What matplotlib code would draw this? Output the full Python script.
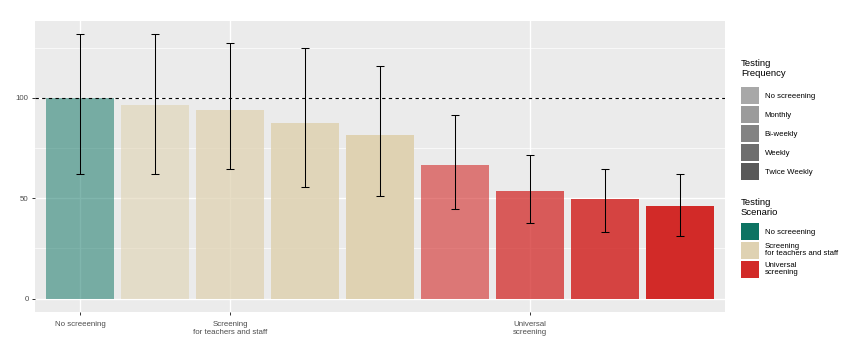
import numpy as np
import matplotlib
matplotlib.use("Agg")
import matplotlib.pyplot as plt
from matplotlib.patches import Patch

plt.rcParams["font.family"] = ["Liberation Sans", "DejaVu Sans"]

# 데이터
scenario = ["No screeening", "Screening", "Screening", "Screening", "Screening",
            "Universal", "Universal", "Universal", "Universal"]
frequency = ["No screeening", "Monthly", "Bi-weekly", "Weekly", "Twice Weekly",
             "Monthly", "Bi-weekly", "Weekly", "Twice Weekly"]
values = [100, 96.5, 93.8, 87.6, 81.4, 66.5, 53.4, 49.4, 46.3]
lower = [62.2, 62.2, 64.7, 55.7, 51.0, 44.6, 37.8, 33.3, 31.0]
upper = [131.7, 131.7, 127.2, 124.9, 115.9, 91.2, 71.3, 64.5, 62.3]

tick_pos = [0, 2, 6]
tick_labels = ["No screeening", "Screening\nfor teachers and staff", "Universal\nscreening"]

freq_levels = ["No screeening", "Monthly", "Bi-weekly", "Weekly", "Twice Weekly"]
scen_levels = ["No screeening", "Screening", "Universal"]
scen_labels = ["No screeening", "Screening\nfor teachers and staff", "Universal\nscreening"]

# 스타일
scen_colors = {"No screeening": "#0c7362", "Screening": "#dfd2b2", "Universal": "#d22a28"}
freq_alpha = {"No screeening": 0.52, "Monthly": 0.6, "Bi-weekly": 0.75, "Weekly": 0.87, "Twice Weekly": 1.0}

fig = plt.figure(figsize=(8.5, 3.51), dpi=100)
ax = fig.add_axes([35 / 850, 1 - 312 / 351, 690 / 850, 291 / 351])
ax.set_facecolor("#ebebeb")

x = np.arange(len(values))
ax.set_axisbelow(True)
ax.set_yticks([0, 50, 100])
ax.set_yticks([25, 75, 125], minor=True)
ax.set_xticks(tick_pos)
ax.set_xticklabels(tick_labels)
ax.grid(True, which="major", color="white", lw=1.0)
ax.grid(True, which="minor", axis="y", color="white", lw=0.5)

for i in range(len(values)):
    ax.bar(x[i], values[i], width=0.9, color=scen_colors[scenario[i]],
           alpha=freq_alpha[frequency[i]], linewidth=0, zorder=2)

vals = np.array(values)
ax.errorbar(x, vals, yerr=[vals - np.array(lower), np.array(upper) - vals], fmt="none",
            ecolor="black", elinewidth=0.75, capsize=3.2, capthick=0.75, zorder=3)
ax.axhline(100, color="black", lw=0.8, ls=(0, (3, 3)), zorder=4)

ax.set_xlim(-0.6, 8.6)
ax.set_ylim(-6.6, 138.2)
for s in ax.spines.values():
    s.set_visible(False)
ax.tick_params(axis="both", which="major", length=2.5, width=0.7, color="#333333",
               labelcolor="#4d4d4d", labelsize=5.7, pad=2)
ax.tick_params(axis="x", which="major", pad=4)
ax.tick_params(axis="y", which="minor", length=0)

# 범례
h1 = [Patch(facecolor="#595959", alpha=freq_alpha[f], edgecolor="none") for f in freq_levels]
leg1 = fig.legend(h1, freq_levels, title="Testing\nFrequency", loc="upper left",
                  bbox_to_anchor=(737 / 850, 1 - 55 / 351), frameon=False, fontsize=5.6,
                  title_fontsize=6.8, handlelength=2.35, handleheight=3.0, labelspacing=0.25,
                  handletextpad=0.7, borderpad=0, alignment="left")
leg1._legend_box.sep = 6.5
h2 = [Patch(facecolor=scen_colors[s], edgecolor="none") for s in scen_levels]
leg2 = fig.legend(h2, scen_labels, title="Testing\nScenario", loc="upper left",
                  bbox_to_anchor=(737 / 850, 1 - 194 / 351), frameon=False, fontsize=5.6,
                  title_fontsize=6.8, handlelength=2.35, handleheight=3.0, labelspacing=0.25,
                  handletextpad=0.7, borderpad=0, alignment="left")
leg2._legend_box.sep = 4
for t in leg2.get_texts():
    t.set_linespacing(0.95)

fig.savefig("out.png", dpi=100)
